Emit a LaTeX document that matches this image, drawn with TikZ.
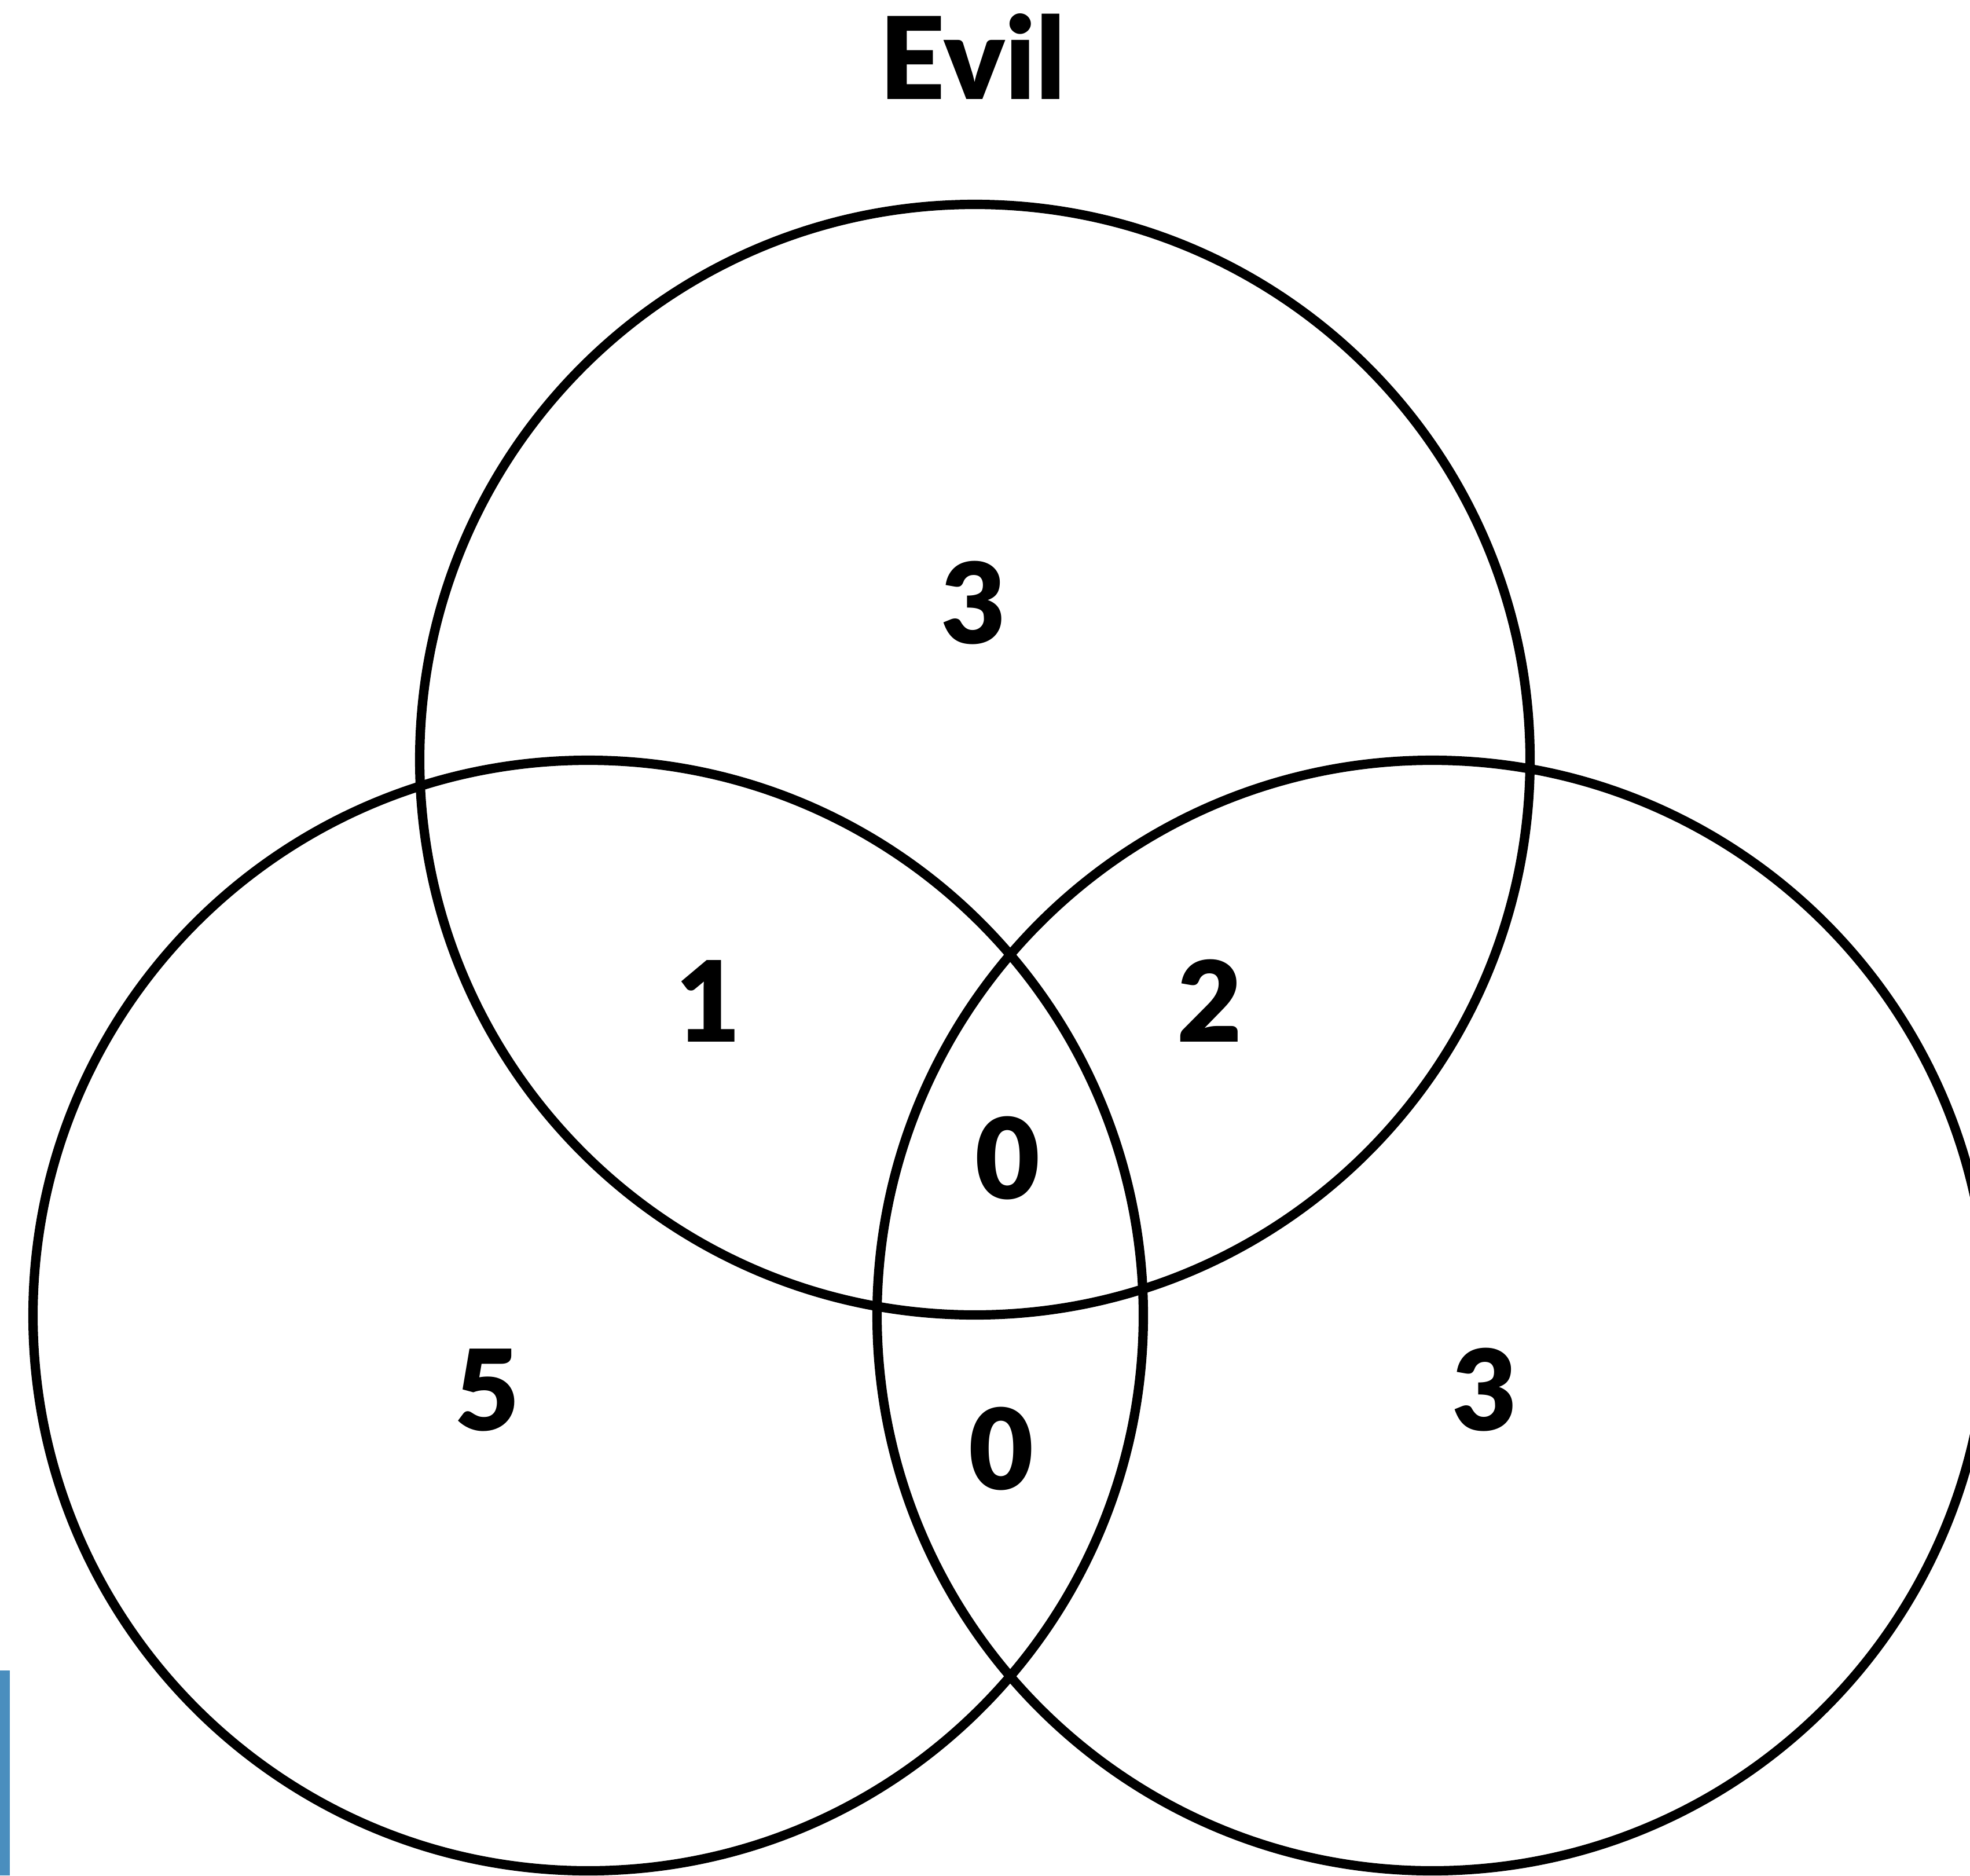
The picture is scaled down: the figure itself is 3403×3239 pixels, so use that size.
\documentclass[tikz,border=0pt]{standalone}
\usepackage{fontspec}
\setmainfont{Lato}
\newfontfamily\blackface{Lato Black}
\definecolor{barblue}{RGB}{74,142,190}
\tikzset{
  ring/.style={line width=4.6pt},
  count/.style={anchor=base, inner sep=0pt, font=\fontsize{55}{66}\selectfont\blackface},
}

\begin{document}
\begin{tikzpicture}[x=0.01cm, y=-0.01cm]
  \useasboundingbox (0,0) rectangle (3403,3239);
  \clip (0,0) rectangle (3403,3239);

  \fill[barblue] (0,2885) rectangle (17,3239);

  \draw[ring] (1684,1312) circle (959);
  \draw[ring] (1016,2272) circle (959);
  \draw[ring] (2474,2272) circle (959);

  \node[count, font=\fontsize{56}{66}\selectfont\blackface] (title) at (1680,171) {Evil};

  \node[count] (top) at (1682,1111) {3};
  \node[count] (topleft) at (1224,1799) {1};
  \node[count] (topright) at (2090,1799) {2};
  \node[count] (middle) at (1741,2070) {0};
  \node[count] (left) at (842,2470) {5};
  \node[count] (bottom) at (1730,2572) {0};
  \node[count] (right) at (2565,2470) {3};
\end{tikzpicture}
\end{document}
